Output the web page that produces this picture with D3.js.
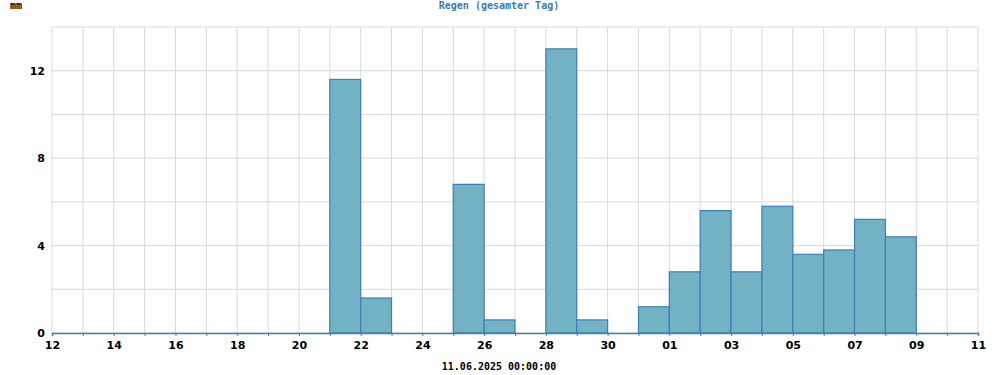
<!DOCTYPE html>
<html><head><meta charset="utf-8">
<script src="https://cdn.jsdelivr.net/npm/d3@7"></script>
<style>body{margin:0;background:#fff}svg{display:block}</style>
</head><body>
<svg id="c" width="1000" height="375"></svg>
<script>
const title = "Regen (gesamter Tag)";
const unitLabel = "mm";
const dateLabel = "11.06.2025 00:00:00";
const startDate = "2025-05-12";
const endDate = "2025-06-11";
// daily totals May 12 .. June 10
const rain = [0,0,0,0,0,0,0,0,0, 11.6,1.6,0,0,6.8,0.6,0,13.0,0.6,0,1.2,
              2.8,5.6,2.8,5.8,3.6,3.8,5.2,4.4,0,0];
const yTicks = [0,4,8,12];
const yGrid = [0,2,4,6,8,10,12,14];

const svg = d3.select("#c");
const m = {l:52, r:978, t:27, b:333};
const parse = d3.utcParse("%Y-%m-%d");
const t0 = parse(startDate), t1 = parse(endDate);
const x = d3.scaleUtc().domain([t0,t1]).range([m.l,m.r]);
const y = d3.scaleLinear().domain([0,14]).range([m.b,m.t]);
const days = d3.utcDay.range(t0, d3.utcDay.offset(t1,1));
const data = rain.map((v,i)=>({d:d3.utcDay.offset(t0,i), v}));
const mono = "'DejaVu Sans Mono', monospace";
const sans = "'DejaVu Sans', Verdana, sans-serif";

// grid
svg.append("g").selectAll("line").data(days).join("line")
  .attr("x1",d=>x(d)).attr("x2",d=>x(d)).attr("y1",m.t).attr("y2",m.b)
  .attr("stroke","#d9d9d9").attr("stroke-width",1);
svg.append("g").selectAll("line").data(yGrid).join("line")
  .attr("x1",m.l).attr("x2",m.r).attr("y1",d=>y(d)).attr("y2",d=>y(d))
  .attr("stroke","#d9d9d9").attr("stroke-width",1);

// bars
svg.append("g").selectAll("rect").data(data.filter(d=>d.v>0)).join("rect")
  .attr("x",d=>x(d.d)).attr("width",d=>x(d3.utcDay.offset(d.d,1))-x(d.d))
  .attr("y",d=>y(d.v)).attr("height",d=>y(0)-y(d.v))
  .attr("fill","#73b1c5").attr("stroke","#3f7fb4").attr("stroke-width",1.2);

// x axis
const xa = d3.axisBottom(x).tickValues(days).tickSize(3)
  .tickFormat((d,i)=> i%2===0 ? d3.utcFormat("%d")(d) : "");
const gx = svg.append("g").attr("transform",`translate(0,${m.b})`).call(xa);
gx.select(".domain").attr("stroke","#3f7fb4").attr("stroke-width",1.5);
gx.selectAll(".tick line").attr("stroke","#3f7fb4");
gx.selectAll("text").attr("font-family",sans).attr("font-weight","bold")
  .attr("font-size",11).attr("fill","#000").attr("dy","0.9em");

// y axis
const ya = d3.axisLeft(y).tickValues(yTicks).tickSize(0).tickPadding(7);
const gy = svg.append("g").attr("transform",`translate(${m.l},0)`).call(ya);
gy.select(".domain").remove();
gy.selectAll("text").attr("font-family",sans).attr("font-weight","bold")
  .attr("font-size",11).attr("fill","#000");

svg.append("text").attr("x",499).attr("y",9).attr("text-anchor","middle")
  .attr("font-family",mono).attr("font-weight","bold").attr("font-size",10)
  .attr("fill","#3d7ab5").text(title);
svg.append("text").attr("x",10).attr("y",9)
  .attr("font-family",mono).attr("font-size",10).attr("font-weight","bold")
  .attr("fill","#000").text(unitLabel);
svg.append("text").attr("x",499).attr("y",370).attr("text-anchor","middle")
  .attr("font-family",mono).attr("font-weight","bold").attr("font-size",10)
  .attr("fill","#000").text(dateLabel);
</script>
</body></html>
